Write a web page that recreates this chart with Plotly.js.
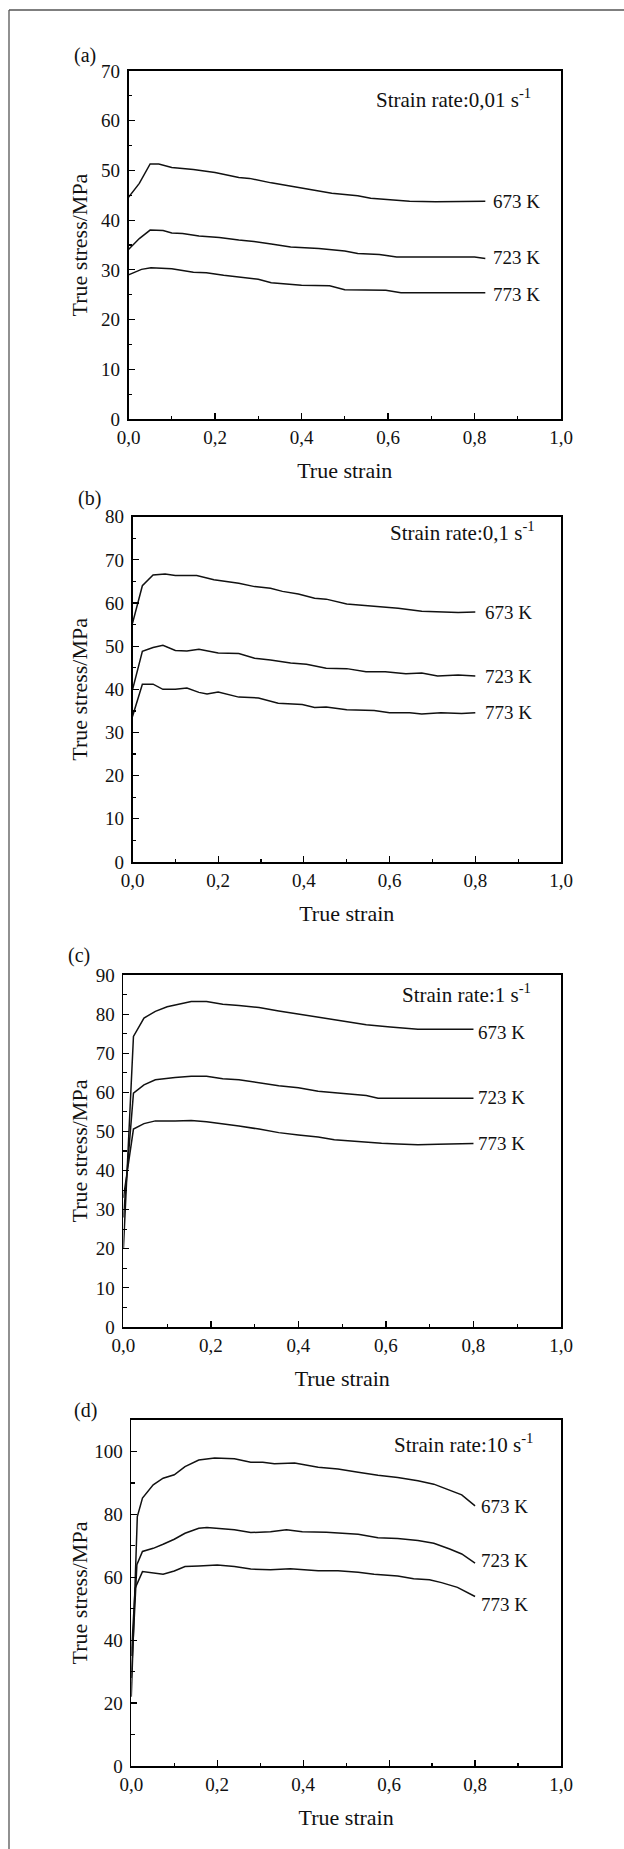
<!DOCTYPE html>
<html><head><meta charset="utf-8">
<script src="https://cdn.plot.ly/plotly-3.0.1.min.js"></script>
<style>html,body{margin:0;padding:0;background:#fff}</style>
</head><body><div id="chart" style="width:624px;height:1849px"></div>
<script>
// ---------- data ----------
const temps = ['673 K', '723 K', '773 K'];
const rates = ['0,01', '0,1', '1', '10'];
const panelTags = ['(a)', '(b)', '(c)', '(d)'];

// (a) strain rate 0,01 s-1
const x673a = [0, 0.025, 0.05, 0.07, 0.1, 0.15, 0.2, 0.255, 0.28, 0.33, 0.39, 0.47, 0.53, 0.56, 0.65, 0.71, 0.825];
const y673a = [44.6, 47.4, 51.3, 51.3, 50.6, 50.2, 49.6, 48.6, 48.4, 47.5, 46.6, 45.4, 44.9, 44.4, 43.8, 43.7, 43.8];
const x723a = [0, 0.025, 0.05, 0.08, 0.1, 0.125, 0.163, 0.21, 0.255, 0.29, 0.33, 0.375, 0.44, 0.5, 0.53, 0.58, 0.62, 0.71, 0.8, 0.825];
const y723a = [34.1, 36.3, 38.0, 37.9, 37.4, 37.3, 36.8, 36.5, 36.0, 35.7, 35.2, 34.6, 34.3, 33.8, 33.3, 33.1, 32.6, 32.6, 32.6, 32.3];
const x773a = [0, 0.03, 0.052, 0.1, 0.15, 0.18, 0.22, 0.255, 0.3, 0.33, 0.365, 0.4, 0.465, 0.5, 0.595, 0.63, 0.825];
const y773a = [29.0, 30.1, 30.4, 30.2, 29.5, 29.4, 28.9, 28.6, 28.1, 27.4, 27.2, 26.9, 26.8, 26.0, 25.9, 25.4, 25.4];

// (b) strain rate 0,1 s-1
const x673b = [0, 0.023, 0.048, 0.076, 0.1, 0.15, 0.19, 0.248, 0.285, 0.322, 0.35, 0.387, 0.425, 0.452, 0.5, 0.554, 0.62, 0.675, 0.72, 0.76, 0.8];
const y673b = [55.3, 64.0, 66.5, 66.7, 66.4, 66.4, 65.4, 64.6, 63.8, 63.4, 62.7, 62.1, 61.1, 60.9, 59.8, 59.3, 58.8, 58.1, 58.0, 57.8, 57.9];
const x723b = [0, 0.023, 0.048, 0.071, 0.1, 0.127, 0.155, 0.2, 0.248, 0.285, 0.322, 0.369, 0.406, 0.452, 0.5, 0.545, 0.59, 0.638, 0.675, 0.712, 0.76, 0.8];
const y723b = [39.9, 48.8, 49.7, 50.2, 49.0, 48.9, 49.3, 48.4, 48.3, 47.2, 46.8, 46.1, 45.8, 44.9, 44.8, 44.1, 44.1, 43.6, 43.8, 43.1, 43.3, 43.1];
const x773b = [0, 0.023, 0.048, 0.071, 0.1, 0.127, 0.155, 0.174, 0.2, 0.248, 0.294, 0.34, 0.396, 0.425, 0.452, 0.5, 0.564, 0.6, 0.647, 0.675, 0.72, 0.768, 0.8];
const y773b = [33.7, 41.2, 41.2, 40.0, 40.0, 40.3, 39.3, 38.9, 39.4, 38.2, 38.0, 36.8, 36.5, 35.8, 35.9, 35.3, 35.1, 34.6, 34.6, 34.3, 34.6, 34.4, 34.6];

// (c) strain rate 1 s-1
const x673c = [0, 0.023, 0.047, 0.073, 0.1, 0.127, 0.155, 0.19, 0.227, 0.264, 0.31, 0.355, 0.4, 0.445, 0.49, 0.555, 0.61, 0.673, 0.736, 0.8];
const y673c = [20, 74.3, 79.0, 80.7, 81.9, 82.5, 83.2, 83.2, 82.5, 82.2, 81.7, 80.8, 80.0, 79.2, 78.4, 77.3, 76.7, 76.1, 76.1, 76.1];
const x723c = [0, 0.023, 0.047, 0.073, 0.118, 0.155, 0.19, 0.227, 0.264, 0.31, 0.355, 0.4, 0.445, 0.49, 0.555, 0.582, 0.8];
const y723c = [28, 59.8, 61.9, 63.2, 63.8, 64.1, 64.1, 63.5, 63.2, 62.4, 61.7, 61.2, 60.3, 59.8, 59.2, 58.5, 58.5];
const x773c = [0, 0.023, 0.047, 0.073, 0.118, 0.155, 0.19, 0.227, 0.264, 0.31, 0.355, 0.4, 0.445, 0.482, 0.536, 0.59, 0.627, 0.673, 0.718, 0.764, 0.8];
const y773c = [33, 50.6, 52.0, 52.7, 52.7, 52.8, 52.5, 52.0, 51.4, 50.6, 49.7, 49.1, 48.6, 47.9, 47.4, 47.0, 46.8, 46.6, 46.7, 46.9, 46.9];

// (d) strain rate 10 s-1
const x673d = [0, 0.014, 0.026, 0.051, 0.074, 0.1, 0.125, 0.157, 0.194, 0.24, 0.278, 0.306, 0.333, 0.38, 0.435, 0.481, 0.528, 0.574, 0.62, 0.667, 0.704, 0.741, 0.769, 0.8];
const y673d = [22, 79.3, 85.2, 89.4, 91.5, 92.6, 95.2, 97.3, 97.9, 97.7, 96.6, 96.6, 96.1, 96.3, 95.0, 94.4, 93.4, 92.4, 91.7, 90.7, 89.6, 87.8, 86.2, 82.7];
const x723d = [0, 0.013, 0.026, 0.051, 0.074, 0.1, 0.125, 0.157, 0.176, 0.213, 0.24, 0.278, 0.324, 0.361, 0.398, 0.454, 0.528, 0.574, 0.62, 0.667, 0.704, 0.741, 0.769, 0.8];
const y723d = [28, 64.0, 68.2, 69.2, 70.5, 72.1, 74.0, 75.6, 75.8, 75.3, 75.1, 74.2, 74.5, 75.1, 74.5, 74.3, 73.7, 72.6, 72.3, 71.7, 70.8, 69.0, 67.4, 64.5];
const x773d = [0, 0.009, 0.026, 0.051, 0.074, 0.1, 0.125, 0.157, 0.2, 0.24, 0.278, 0.324, 0.37, 0.435, 0.481, 0.528, 0.565, 0.62, 0.657, 0.694, 0.722, 0.759, 0.8];
const y773d = [35, 56.5, 61.8, 61.5, 61.0, 62.0, 63.4, 63.6, 63.9, 63.4, 62.6, 62.4, 62.7, 62.1, 62.1, 61.6, 61.0, 60.4, 59.5, 59.2, 58.3, 56.8, 53.9];

const yMaxes = [70, 80, 90, 110];
const yDticks = [10, 10, 10, 20];

const seriesX = [[x673a, x723a, x773a], [x673b, x723b, x773b], [x673c, x723c, x773c], [x673d, x723d, x773d]];
const seriesY = [[y673a, y723a, y773a], [y673b, y723b, y773b], [y673c, y723c, y773c], [y673d, y723d, y773d]];

// ---------- layout geometry (pixels) ----------
const W = 624, H = 1849;
const FONT = '"Liberation Serif", "Times New Roman", Times, serif';
const INK = '#111';
const px = v => v / W;
const py = v => 1 - v / H;

const geom = [
  {L: 128.5, R: 561, T: 71,    B: 419,  tagX: 84.5, tagY: 56,   rateX: 533, rateY: 98,   xs: 6,   ys: [0, 1, -2],     yStand: 7},
  {L: 132.5, R: 561, T: 516.7, B: 862,  tagX: 89.5, tagY: 498,  rateX: 537, rateY: 532,  xs: 8,   ys: [0, -1, 0],     yStand: 11},
  {L: 123.4, R: 561, T: 975,   B: 1327, tagX: 78.6, tagY: 955,  rateX: 533, rateY: 993,  xs: 3,   ys: [-3.5, 1, 0],   yStand: 2},
  {L: 131.3, R: 561, T: 1420,  B: 1766, tagX: 85.5, tagY: 1410, rateX: 535, rateY: 1443, xs: 4,   ys: [-1, 3, -8.5],  yStand: 0}
];

const data = [];
const annotations = [];
const layout = {
  width: W, height: H,
  margin: {l: 0, r: 0, t: 0, b: 0},
  paper_bgcolor: '#fff', plot_bgcolor: '#fff',
  showlegend: false,
  separators: ',.',
  font: {family: FONT, color: INK, size: 19},
  shapes: [
    {type: 'line', xref: 'paper', yref: 'paper', x0: px(9), y0: py(10), x1: px(9), y1: -0.02, line: {color: '#555', width: 1.3}},
    {type: 'line', xref: 'paper', yref: 'paper', x0: px(9), y0: py(10), x1: 1.02, y1: py(10), line: {color: '#555', width: 1.3}}
  ],
  annotations: annotations
};

geom.forEach((g, i) => {
  const n = i + 1;
  const xa = 'x' + (n === 1 ? '' : n), ya = 'y' + (n === 1 ? '' : n);
  const xk = 'xaxis' + (n === 1 ? '' : n), yk = 'yaxis' + (n === 1 ? '' : n);
  layout[xk] = {
    domain: [px(g.L), px(g.R)], anchor: ya, range: [0, 1],
    dtick: 0.2, tick0: 0, tickformat: '.1f',
    ticks: 'inside', ticklen: 6, tickwidth: 1.2, tickcolor: '#000',
    minor: {ticks: 'inside', dtick: 0.1, ticklen: 3.5, tickwidth: 1.2, tickcolor: '#000', showgrid: false},
    showline: true, mirror: true, linecolor: '#000', linewidth: 1.8,
    showgrid: false, zeroline: false, fixedrange: true,
    tickfont: {family: FONT, size: 19, color: INK},
    title: {text: 'True strain', font: {family: FONT, size: 22, color: INK}, standoff: 16}
  };
  layout[yk] = {
    domain: [py(g.B), py(g.T)], anchor: xa, range: [0, yMaxes[i]],
    dtick: yDticks[i], tick0: 0,
    ticks: 'inside', ticklen: 6, tickwidth: 1.2, tickcolor: '#000',
    minor: {ticks: 'inside', dtick: yDticks[i] / 2, ticklen: 3.5, tickwidth: 1.2, tickcolor: '#000', showgrid: false},
    showline: true, mirror: true, linecolor: '#000', linewidth: 1.8,
    showgrid: false, zeroline: false, fixedrange: true,
    ticklabelstandoff: 3,
    tickfont: {family: FONT, size: 19, color: INK},
    title: {text: 'True stress/MPa', font: {family: FONT, size: 22, color: INK}, standoff: g.yStand}
  };
  temps.forEach((t, k) => {
    const xs = seriesX[i][k], ys = seriesY[i][k];
    data.push({
      type: 'scatter', mode: 'lines', x: xs, y: ys, xaxis: xa, yaxis: ya,
      name: t + ', ' + rates[i] + ' s-1', line: {color: '#111', width: 1.5}
    });
    annotations.push({
      xref: xa, yref: ya, x: xs[xs.length - 1], y: ys[ys.length - 1],
      xanchor: 'left', yanchor: 'middle', xshift: g.xs, yshift: g.ys[k],
      text: t, showarrow: false, font: {family: FONT, size: 19, color: INK}
    });
  });
  annotations.push({
    xref: 'paper', yref: 'paper', x: px(g.rateX), y: py(g.rateY),
    xanchor: 'right', yanchor: 'middle', showarrow: false,
    text: 'Strain rate:' + rates[i] + ' s<sup>-1</sup>',
    font: {family: FONT, size: 21, color: INK}
  });
  annotations.push({
    xref: 'paper', yref: 'paper', x: px(g.tagX), y: py(g.tagY),
    xanchor: 'center', yanchor: 'middle', showarrow: false,
    text: panelTags[i], font: {family: FONT, size: 20, color: INK}
  });
});

Plotly.newPlot('chart', data, layout, {displayModeBar: false, staticPlot: true});
</script></body></html>
